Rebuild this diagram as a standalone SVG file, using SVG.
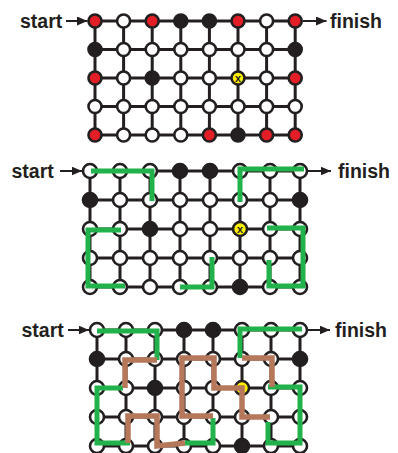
<svg xmlns="http://www.w3.org/2000/svg" width="398" height="453" viewBox="0 0 398 453">
<style>
.bg{fill:#fff}
.grid{fill:none;stroke:#231f20;stroke-width:3}
.n circle{stroke:#231f20;stroke-width:2.6}
.w circle{fill:#fff}
.b circle{fill:#231f20}
.r circle{fill:#e31e26}
.y circle{fill:#fff200}
.xt{font-family:"Liberation Sans",Arial,sans-serif;font-weight:bold;font-size:11px;fill:#231f20;text-anchor:middle}
.lbl{font-family:"Liberation Sans",Arial,sans-serif;font-weight:bold;font-size:19.5px;fill:#231f20}
.arr{stroke:#231f20;stroke-width:2;fill:none;marker-end:url(#ah)}
.green{fill:none;stroke:#21b24b;stroke-width:5;stroke-linejoin:miter;stroke-linecap:butt}
.brown{fill:none;stroke:#b5785a;stroke-width:5.5;stroke-linejoin:miter;stroke-linecap:butt}
</style>
<defs>
<marker id="ah" markerUnits="userSpaceOnUse" markerWidth="11" markerHeight="10" refX="10.5" refY="4.5" orient="auto">
<path d="M0,0 L10.5,4.5 L0,9 z" fill="#231f20"/>
</marker>
</defs>
<rect class="bg" x="0" y="0" width="398" height="453"/>

<!-- ===== Panel 1 ===== -->
<g id="p1-connectors">
<path class="grid" d="M95,21H295.2M95,49.5H295.2M95,78H295.2M95,106.5H295.2M95,135H295.2M95,21V135M123.6,21V135M152.2,21V135M180.8,21V135M209.4,21V135M238,21V135M266.6,21V135M295.2,21V135"/>
<path class="arr" d="M66,21H87.5"/>
<path class="arr" d="M303,21H326.5"/>
</g>
<text class="lbl" x="20" y="27.5">start</text>
<text class="lbl" x="330" y="27.5">finish</text>
<g id="p1-nodes">
<g id="p1-n00" class="n r"><circle cx="95" cy="21" r="6.5"/></g>
<g id="p1-n01" class="n w"><circle cx="123.6" cy="21" r="6.5"/></g>
<g id="p1-n02" class="n r"><circle cx="152.2" cy="21" r="6.5"/></g>
<g id="p1-n03" class="n b"><circle cx="180.8" cy="21" r="6.5"/></g>
<g id="p1-n04" class="n b"><circle cx="209.4" cy="21" r="6.5"/></g>
<g id="p1-n05" class="n r"><circle cx="238" cy="21" r="6.5"/></g>
<g id="p1-n06" class="n w"><circle cx="266.6" cy="21" r="6.5"/></g>
<g id="p1-n07" class="n r"><circle cx="295.2" cy="21" r="6.5"/></g>
<g id="p1-n10" class="n b"><circle cx="95" cy="49.5" r="6.5"/></g>
<g id="p1-n11" class="n w"><circle cx="123.6" cy="49.5" r="6.5"/></g>
<g id="p1-n12" class="n w"><circle cx="152.2" cy="49.5" r="6.5"/></g>
<g id="p1-n13" class="n w"><circle cx="180.8" cy="49.5" r="6.5"/></g>
<g id="p1-n14" class="n w"><circle cx="209.4" cy="49.5" r="6.5"/></g>
<g id="p1-n15" class="n w"><circle cx="238" cy="49.5" r="6.5"/></g>
<g id="p1-n16" class="n w"><circle cx="266.6" cy="49.5" r="6.5"/></g>
<g id="p1-n17" class="n b"><circle cx="295.2" cy="49.5" r="6.5"/></g>
<g id="p1-n20" class="n r"><circle cx="95" cy="78" r="6.5"/></g>
<g id="p1-n21" class="n w"><circle cx="123.6" cy="78" r="6.5"/></g>
<g id="p1-n22" class="n b"><circle cx="152.2" cy="78" r="6.5"/></g>
<g id="p1-n23" class="n w"><circle cx="180.8" cy="78" r="6.5"/></g>
<g id="p1-n24" class="n w"><circle cx="209.4" cy="78" r="6.5"/></g>
<g id="p1-n25" class="n y"><circle cx="238" cy="78" r="6.5"/><text class="xt" x="238" y="82">x</text></g>
<g id="p1-n26" class="n w"><circle cx="266.6" cy="78" r="6.5"/></g>
<g id="p1-n27" class="n r"><circle cx="295.2" cy="78" r="6.5"/></g>
<g id="p1-n30" class="n w"><circle cx="95" cy="106.5" r="6.5"/></g>
<g id="p1-n31" class="n w"><circle cx="123.6" cy="106.5" r="6.5"/></g>
<g id="p1-n32" class="n w"><circle cx="152.2" cy="106.5" r="6.5"/></g>
<g id="p1-n33" class="n w"><circle cx="180.8" cy="106.5" r="6.5"/></g>
<g id="p1-n34" class="n w"><circle cx="209.4" cy="106.5" r="6.5"/></g>
<g id="p1-n35" class="n w"><circle cx="238" cy="106.5" r="6.5"/></g>
<g id="p1-n36" class="n w"><circle cx="266.6" cy="106.5" r="6.5"/></g>
<g id="p1-n37" class="n w"><circle cx="295.2" cy="106.5" r="6.5"/></g>
<g id="p1-n40" class="n r"><circle cx="95" cy="135" r="6.5"/></g>
<g id="p1-n41" class="n w"><circle cx="123.6" cy="135" r="6.5"/></g>
<g id="p1-n42" class="n w"><circle cx="152.2" cy="135" r="6.5"/></g>
<g id="p1-n43" class="n w"><circle cx="180.8" cy="135" r="6.5"/></g>
<g id="p1-n44" class="n r"><circle cx="209.4" cy="135" r="6.5"/></g>
<g id="p1-n45" class="n b"><circle cx="238" cy="135" r="6.5"/></g>
<g id="p1-n46" class="n r"><circle cx="266.6" cy="135" r="6.5"/></g>
<g id="p1-n47" class="n r"><circle cx="295.2" cy="135" r="6.5"/></g>
</g>

<!-- ===== Panel 2 ===== -->
<g id="p2-connectors">
<path class="grid" d="M90,171H300M90,200H300M90,229H300M90,258H300M90,287H300M90,171V287M120,171V287M150,171V287M180,171V287M210,171V287M240,171V287M270,171V287M300,171V287"/>
<path class="arr" d="M60,171H82"/>
<path class="arr" d="M308,171H331"/>
</g>
<text class="lbl" x="11.5" y="177.5">start</text>
<text class="lbl" x="338" y="177.5">finish</text>
<g id="p2-nodes">
<g id="p2-n00" class="n w"><circle cx="90" cy="171" r="7"/></g>
<g id="p2-n01" class="n w"><circle cx="120" cy="171" r="7"/></g>
<g id="p2-n02" class="n w"><circle cx="150" cy="171" r="7"/></g>
<g id="p2-n03" class="n b"><circle cx="180" cy="171" r="7"/></g>
<g id="p2-n04" class="n b"><circle cx="210" cy="171" r="7"/></g>
<g id="p2-n05" class="n w"><circle cx="240" cy="171" r="7"/></g>
<g id="p2-n06" class="n w"><circle cx="270" cy="171" r="7"/></g>
<g id="p2-n07" class="n w"><circle cx="300" cy="171" r="7"/></g>
<g id="p2-n10" class="n b"><circle cx="90" cy="200" r="7"/></g>
<g id="p2-n11" class="n w"><circle cx="120" cy="200" r="7"/></g>
<g id="p2-n12" class="n w"><circle cx="150" cy="200" r="7"/></g>
<g id="p2-n13" class="n w"><circle cx="180" cy="200" r="7"/></g>
<g id="p2-n14" class="n w"><circle cx="210" cy="200" r="7"/></g>
<g id="p2-n15" class="n w"><circle cx="240" cy="200" r="7"/></g>
<g id="p2-n16" class="n w"><circle cx="270" cy="200" r="7"/></g>
<g id="p2-n17" class="n b"><circle cx="300" cy="200" r="7"/></g>
<g id="p2-n20" class="n w"><circle cx="90" cy="229" r="7"/></g>
<g id="p2-n21" class="n w"><circle cx="120" cy="229" r="7"/></g>
<g id="p2-n22" class="n b"><circle cx="150" cy="229" r="7"/></g>
<g id="p2-n23" class="n w"><circle cx="180" cy="229" r="7"/></g>
<g id="p2-n24" class="n w"><circle cx="210" cy="229" r="7"/></g>
<g id="p2-n25" class="n y"><circle cx="240" cy="229" r="7"/><text class="xt" x="240" y="233">x</text></g>
<g id="p2-n26" class="n w"><circle cx="270" cy="229" r="7"/></g>
<g id="p2-n27" class="n w"><circle cx="300" cy="229" r="7"/></g>
<g id="p2-n30" class="n w"><circle cx="90" cy="258" r="7"/></g>
<g id="p2-n31" class="n w"><circle cx="120" cy="258" r="7"/></g>
<g id="p2-n32" class="n w"><circle cx="150" cy="258" r="7"/></g>
<g id="p2-n33" class="n w"><circle cx="180" cy="258" r="7"/></g>
<g id="p2-n34" class="n w"><circle cx="210" cy="258" r="7"/></g>
<g id="p2-n35" class="n w"><circle cx="240" cy="258" r="7"/></g>
<g id="p2-n36" class="n w"><circle cx="270" cy="258" r="7"/></g>
<g id="p2-n37" class="n w"><circle cx="300" cy="258" r="7"/></g>
<g id="p2-n40" class="n w"><circle cx="90" cy="287" r="7"/></g>
<g id="p2-n41" class="n w"><circle cx="120" cy="287" r="7"/></g>
<g id="p2-n42" class="n w"><circle cx="150" cy="287" r="7"/></g>
<g id="p2-n43" class="n w"><circle cx="180" cy="287" r="7"/></g>
<g id="p2-n44" class="n w"><circle cx="210" cy="287" r="7"/></g>
<g id="p2-n45" class="n b"><circle cx="240" cy="287" r="7"/></g>
<g id="p2-n46" class="n w"><circle cx="270" cy="287" r="7"/></g>
<g id="p2-n47" class="n w"><circle cx="300" cy="287" r="7"/></g>
</g>
<g id="p2-paths">
<path class="green" d="M91,171H152V201"/>
<path class="green" d="M240,202V169H304"/>
<path class="green" d="M121,230H88V286H125"/>
<path class="green" d="M212,257V287H180"/>
<path class="green" d="M267,228H303V286H269V260"/>
</g>

<!-- ===== Panel 3 ===== -->
<g id="p3-connectors">
<path class="grid" d="M97,330H300M97,359H300M97,388H300M97,417H300M97,446H300M97,330V446M126,330V446M155,330V446M184,330V446M213,330V446M242,330V446M271,330V446M300,330V446"/>
<path class="arr" d="M68,330H89"/>
<path class="arr" d="M308,330H330"/>
</g>
<text class="lbl" x="21.5" y="336.5">start</text>
<text class="lbl" x="335" y="336.5">finish</text>
<g id="p3-nodes">
<g id="p3-n00" class="n w"><circle cx="97" cy="330" r="7"/></g>
<g id="p3-n01" class="n w"><circle cx="126" cy="330" r="7"/></g>
<g id="p3-n02" class="n w"><circle cx="155" cy="330" r="7"/></g>
<g id="p3-n03" class="n b"><circle cx="184" cy="330" r="7"/></g>
<g id="p3-n04" class="n b"><circle cx="213" cy="330" r="7"/></g>
<g id="p3-n05" class="n w"><circle cx="242" cy="330" r="7"/></g>
<g id="p3-n06" class="n w"><circle cx="271" cy="330" r="7"/></g>
<g id="p3-n07" class="n w"><circle cx="300" cy="330" r="7"/></g>
<g id="p3-n10" class="n b"><circle cx="97" cy="359" r="7"/></g>
<g id="p3-n11" class="n w"><circle cx="126" cy="359" r="7"/></g>
<g id="p3-n12" class="n w"><circle cx="155" cy="359" r="7"/></g>
<g id="p3-n13" class="n w"><circle cx="184" cy="359" r="7"/></g>
<g id="p3-n14" class="n w"><circle cx="213" cy="359" r="7"/></g>
<g id="p3-n15" class="n w"><circle cx="242" cy="359" r="7"/></g>
<g id="p3-n16" class="n w"><circle cx="271" cy="359" r="7"/></g>
<g id="p3-n17" class="n b"><circle cx="300" cy="359" r="7"/></g>
<g id="p3-n20" class="n w"><circle cx="97" cy="388" r="7"/></g>
<g id="p3-n21" class="n w"><circle cx="126" cy="388" r="7"/></g>
<g id="p3-n22" class="n b"><circle cx="155" cy="388" r="7"/></g>
<g id="p3-n23" class="n w"><circle cx="184" cy="388" r="7"/></g>
<g id="p3-n24" class="n w"><circle cx="213" cy="388" r="7"/></g>
<g id="p3-n25" class="n y"><circle cx="242" cy="388" r="7"/></g>
<g id="p3-n26" class="n w"><circle cx="271" cy="388" r="7"/></g>
<g id="p3-n27" class="n w"><circle cx="300" cy="388" r="7"/></g>
<g id="p3-n30" class="n w"><circle cx="97" cy="417" r="7"/></g>
<g id="p3-n31" class="n w"><circle cx="126" cy="417" r="7"/></g>
<g id="p3-n32" class="n w"><circle cx="155" cy="417" r="7"/></g>
<g id="p3-n33" class="n w"><circle cx="184" cy="417" r="7"/></g>
<g id="p3-n34" class="n w"><circle cx="213" cy="417" r="7"/></g>
<g id="p3-n35" class="n w"><circle cx="242" cy="417" r="7"/></g>
<g id="p3-n36" class="n w"><circle cx="271" cy="417" r="7"/></g>
<g id="p3-n37" class="n w"><circle cx="300" cy="417" r="7"/></g>
<g id="p3-n40" class="n w"><circle cx="97" cy="446" r="7"/></g>
<g id="p3-n41" class="n w"><circle cx="126" cy="446" r="7"/></g>
<g id="p3-n42" class="n w"><circle cx="155" cy="446" r="7"/></g>
<g id="p3-n43" class="n w"><circle cx="184" cy="446" r="7"/></g>
<g id="p3-n44" class="n w"><circle cx="213" cy="446" r="7"/></g>
<g id="p3-n45" class="n b"><circle cx="242" cy="446" r="7"/></g>
<g id="p3-n46" class="n w"><circle cx="271" cy="446" r="7"/></g>
<g id="p3-n47" class="n w"><circle cx="300" cy="446" r="7"/></g>
</g>
<g id="p3-paths">
<path class="green" d="M97,331H157V360"/>
<path class="green" d="M240,358V329H302"/>
<path class="green" d="M123,388H97V443H130"/>
<path class="green" d="M185,443H213V418"/>
<path class="green" d="M268,387H300V443H268V422"/>
<path class="brown" d="M157,360H125V388"/>
<path class="brown" d="M128,443V416H157V446L185,443"/>
<path class="brown" d="M213,416H182V358H214V388H242V417H270"/>
<path class="brown" d="M242,358H272V387"/>
</g>
</svg>
